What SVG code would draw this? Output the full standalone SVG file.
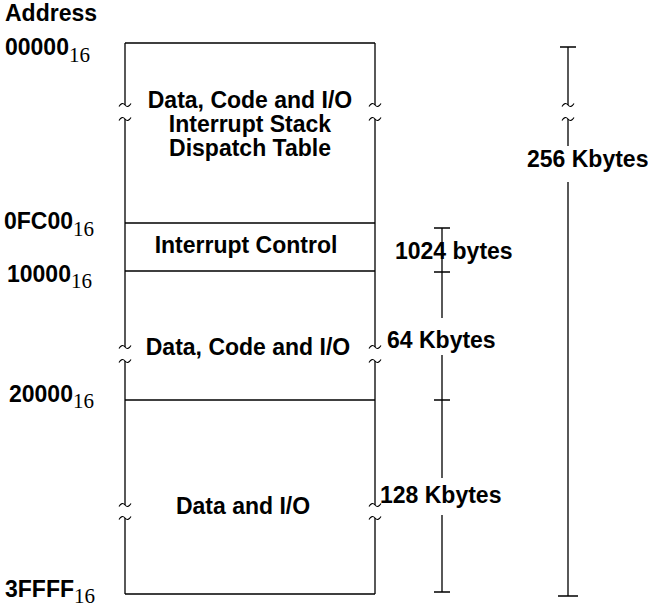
<svg xmlns="http://www.w3.org/2000/svg" width="648" height="607" viewBox="0 0 648 607">
<style>
.t{font-family:"Liberation Sans",Arial,sans-serif;font-weight:bold;font-size:23px;fill:#000}
.c{text-anchor:middle}
.s{font-family:"Liberation Serif","Times New Roman",serif;font-weight:normal;font-size:21px}
.ln{stroke:#000;stroke-width:1.3;fill:none}
</style>
<defs>
<path id="tl" d="M-6,1.5 Q-3,-3.5 0,0 T6,-1.5" stroke="#000" stroke-width="1.1" fill="none"/>
</defs>
<rect width="648" height="607" fill="#fff"/>
<g id="labels">
<text class="t" x="5" y="21">Address</text>
<text class="t" x="5" y="55">00000<tspan class="s" dy="7">16</tspan></text>
<text class="t" x="4" y="229">0FC00<tspan class="s" dy="7">16</tspan></text>
<text class="t" x="7" y="282">10000<tspan class="s" dy="6">16</tspan></text>
<text class="t" x="9" y="402">20000<tspan class="s" dy="6">16</tspan></text>
<text class="t" x="5" y="597">3FFFF<tspan class="s" dy="6">16</tspan></text>
</g>
<g id="frame">
<path class="ln" d="M125,43 H375 M125,594 H375 M125,43 V105 M125,119 V347 M125,361 V505 M125,518 V594 M375,43 V105 M375,119 V347 M375,361 V505 M375,518 V594"/>
<use href="#tl" x="125" y="105"/><use href="#tl" x="125" y="119"/>
<use href="#tl" x="375" y="105"/><use href="#tl" x="375" y="119"/>
<use href="#tl" x="125" y="347"/><use href="#tl" x="125" y="361"/>
<use href="#tl" x="375" y="347"/><use href="#tl" x="375" y="361"/>
<use href="#tl" x="125" y="505"/><use href="#tl" x="125" y="518"/>
<use href="#tl" x="375" y="505"/><use href="#tl" x="375" y="518"/>
</g>
<g id="region-low">
<text class="t c" x="250" y="108">Data, Code and I/O</text>
<text class="t c" x="250" y="132">Interrupt Stack</text>
<text class="t c" x="250" y="156">Dispatch Table</text>
</g>
<g id="region-intctl">
<path class="ln" d="M125,223 H375 M125,271 H375"/>
<text class="t c" x="246" y="253">Interrupt Control</text>
</g>
<g id="region-mid">
<path class="ln" d="M125,400 H375"/>
<text class="t c" x="248" y="355">Data, Code and I/O</text>
</g>
<g id="region-high">
<text class="t c" x="243" y="514">Data and I/O</text>
</g>
<g id="connectors">
<path class="ln" d="M442,228 V318 M442,355 V478 M442,515 V592 M434,228 H450 M434,272 H450 M434,400 H450 M434,592 H450"/>
<path class="ln" d="M568,47 V105 M568,119 V146 M568,182 V596 M560,47 H576 M558,596 H578"/>
<use href="#tl" x="568" y="105"/><use href="#tl" x="568" y="119"/>
</g>
<g id="sizes">
<text class="t" x="395" y="259">1024 bytes</text>
<text class="t" x="387" y="348">64 Kbytes</text>
<text class="t" x="380" y="503">128 Kbytes</text>
<text class="t" x="527" y="167">256 Kbytes</text>
</g>
</svg>
